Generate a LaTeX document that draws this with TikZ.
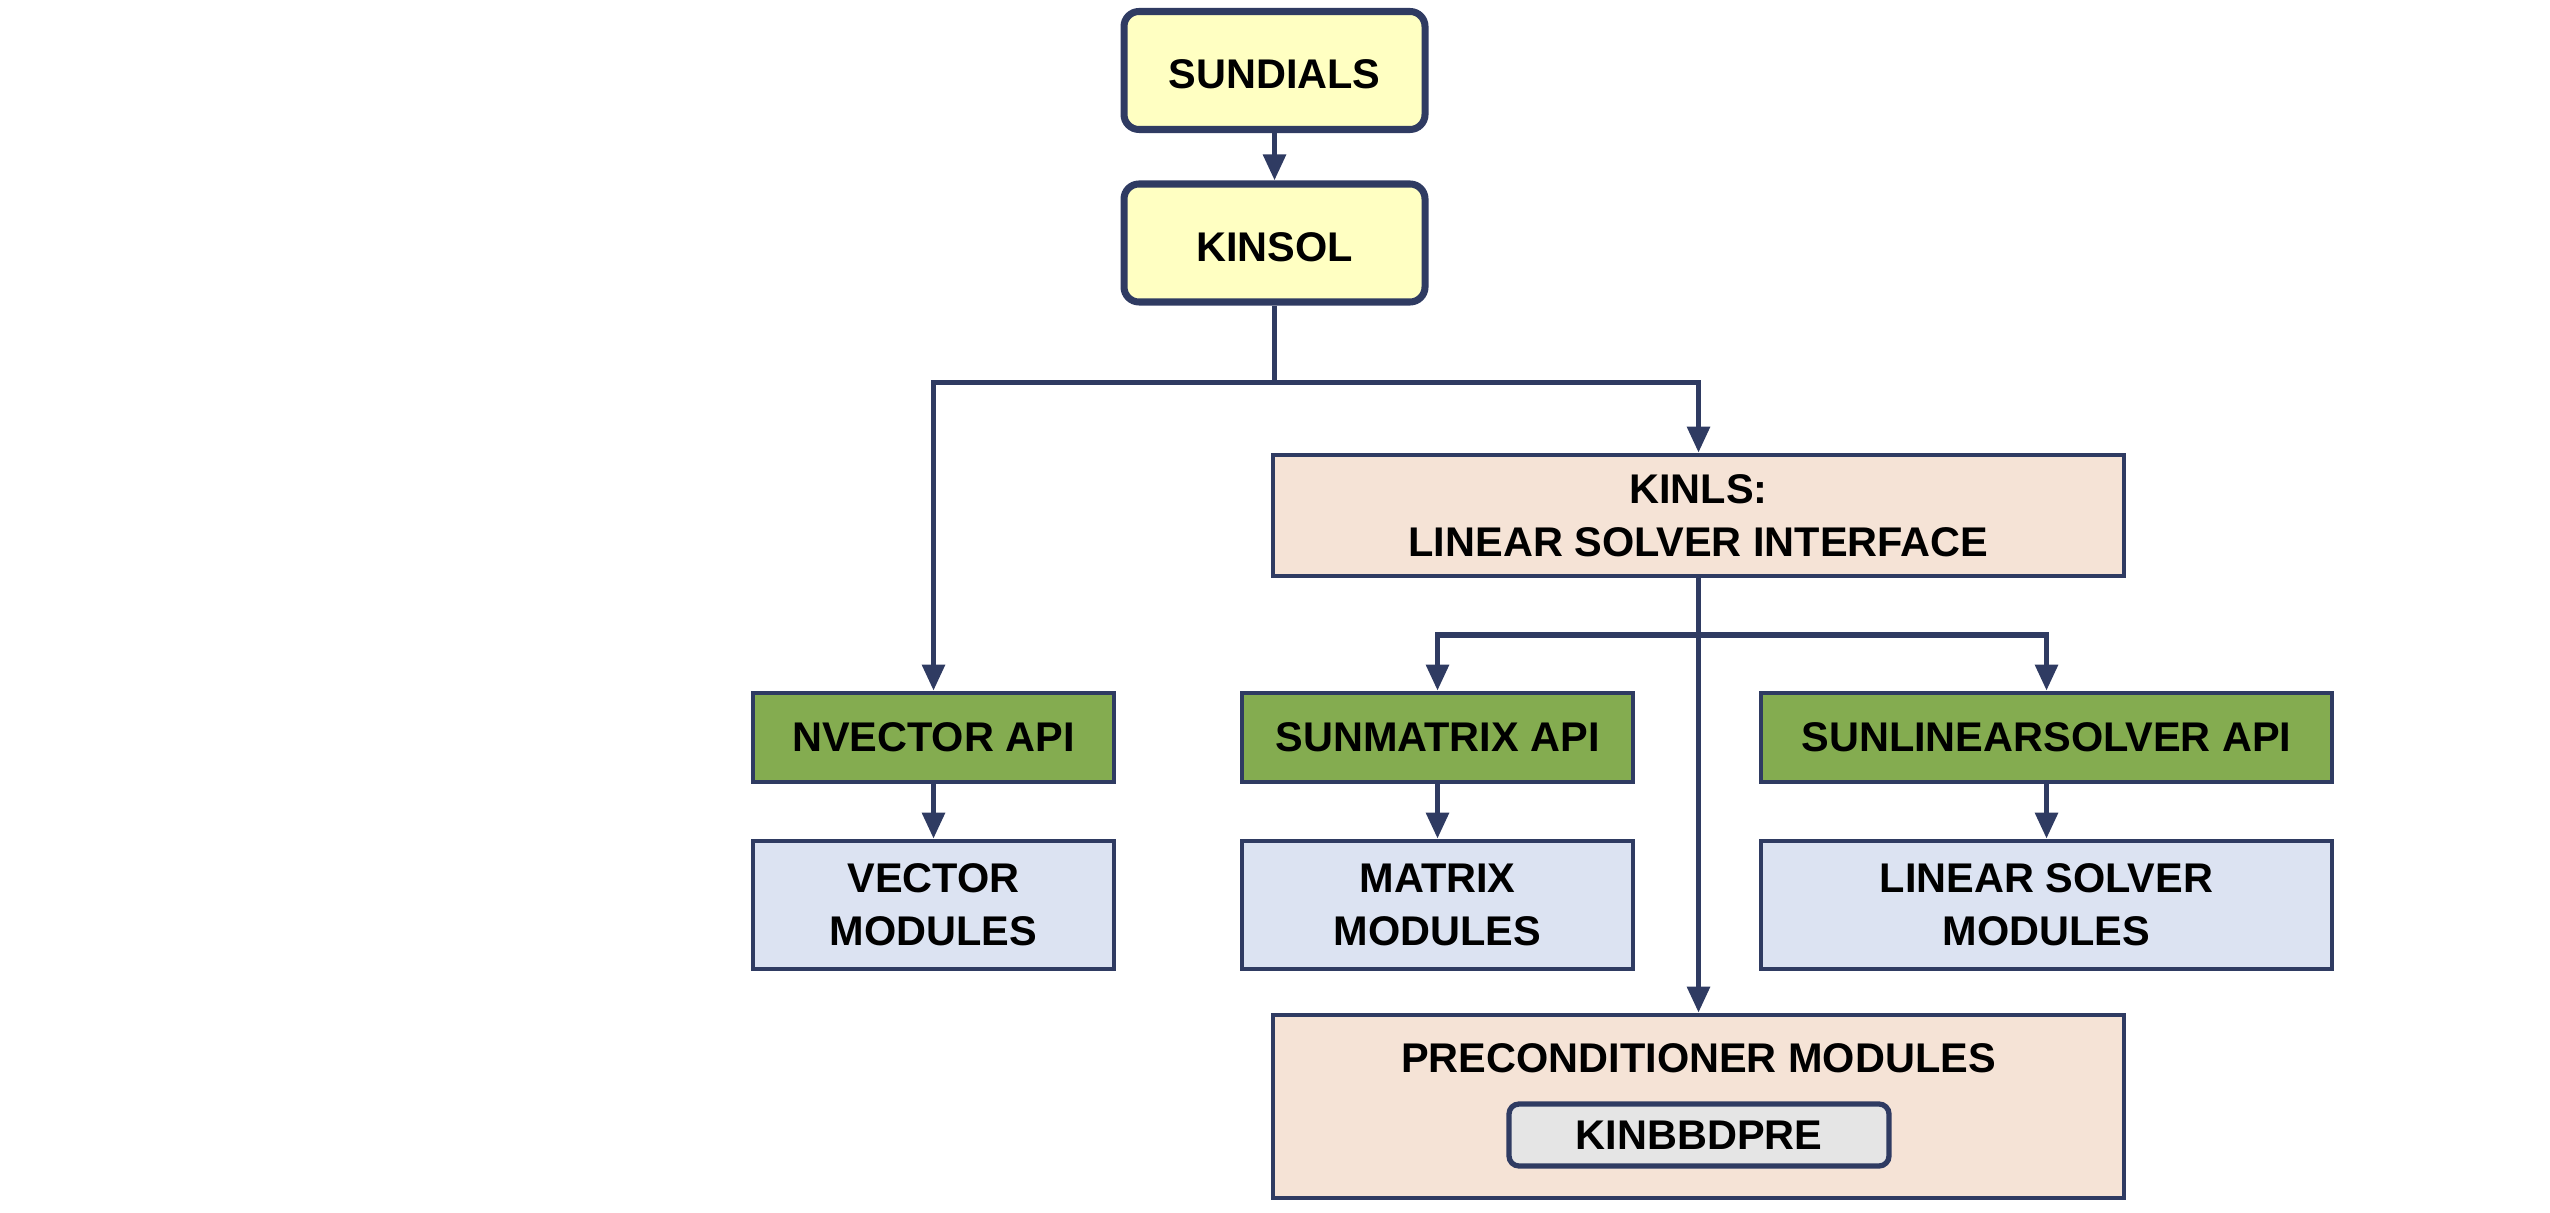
\documentclass[tikz,border=0pt]{standalone}
\usepackage{fontspec}
\setmainfont{Liberation Sans}
\usetikzlibrary{arrows.meta}
\definecolor{navy}{HTML}{2F3B62}
\definecolor{sunyellow}{HTML}{FFFFC2}
\definecolor{peach}{HTML}{F5E3D6}
\definecolor{apigreen}{HTML}{84AC50}
\definecolor{modblue}{HTML}{DCE3F2}
\definecolor{pregray}{HTML}{E5E5E5}
\tikzset{
  every node/.style={font=\fontsize{11.8}{15}\selectfont\bfseries,align=center,inner sep=0pt},
  topbox/.style={rectangle,draw=navy,line width=2pt,rounded corners=0.15cm,fill=sunyellow,minimum width=3.01cm,minimum height=1.18cm,text height=0.37cm,text depth=0pt},
  ifacebox/.style={rectangle,draw=navy,line width=1.3pt,fill=peach,minimum width=8.51cm},
  apibox/.style={rectangle,draw=navy,line width=1.3pt,fill=apigreen,minimum height=0.89cm},
  modbox/.style={rectangle,draw=navy,line width=1.3pt,fill=modblue,minimum height=1.28cm},
  link/.style={draw=navy,line width=1.6pt,-{Triangle[length=2.6mm,width=2.2mm]}},
  bar/.style={draw=navy,line width=1.6pt}
}
\begin{document}
\begin{tikzpicture}
  \useasboundingbox (0,0) rectangle (25.5,-12.13);
  \node (Sundials) [topbox] at (12.745,-0.705) {SUNDIALS};
  \node (Kinsol) [topbox] at (12.745,-2.43) {KINSOL};
  \node (Kinls) [ifacebox,minimum height=1.21cm] at (16.985,-5.155) {KINLS:\\LINEAR SOLVER INTERFACE};
  \node (NvecApi) [apibox,minimum width=3.61cm] at (9.335,-7.375) {NVECTOR API};
  \node (MatApi) [apibox,minimum width=3.91cm] at (14.375,-7.375) {SUNMATRIX API};
  \node (LsApi) [apibox,minimum width=5.71cm] at (20.465,-7.375) {SUNLINEARSOLVER API};
  \node (VecMod) [modbox,minimum width=3.61cm] at (9.335,-9.05) {VECTOR\\MODULES};
  \node (MatMod) [modbox,minimum width=3.91cm] at (14.375,-9.05) {MATRIX\\MODULES};
  \node (LsMod) [modbox,minimum width=5.71cm] at (20.465,-9.05) {LINEAR SOLVER\\MODULES};
  \node (Precond) [ifacebox,minimum height=1.83cm] at (16.985,-11.065) {};
  \node (PrecondLabel) at (16.985,-10.58) {PRECONDITIONER MODULES};
  \node (KinBbd) [rectangle,draw=navy,line width=1.5pt,rounded corners=0.1cm,fill=pregray,minimum width=3.8cm,minimum height=0.62cm] at (16.99,-11.35) {KINBBDPRE};
  \draw [link] (Sundials.south) -- (Kinsol.north);
  \draw [bar] (Kinsol.south) -- ++(0,-0.77) coordinate (SplitTop);
  \draw [link] (SplitTop) -| (NvecApi.north);
  \draw [link] (SplitTop) -| (Kinls.north);
  \draw [bar] (Kinls.south) -- ++(0,-0.57) coordinate (SplitLs);
  \draw [link] (SplitLs) -| (MatApi.north);
  \draw [link] (SplitLs) -| (LsApi.north);
  \draw [link] (Kinls.south) -- (Precond.north);
  \draw [link] (NvecApi.south) -- (VecMod.north);
  \draw [link] (MatApi.south) -- (MatMod.north);
  \draw [link] (LsApi.south) -- (LsMod.north);
\end{tikzpicture}
\end{document}
